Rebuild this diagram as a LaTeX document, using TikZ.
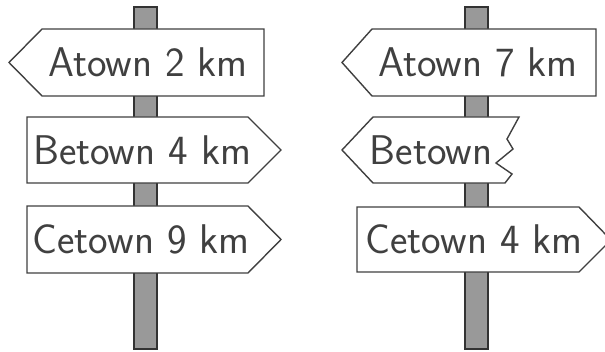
\documentclass[tikz,border=0pt]{standalone}
\begin{document}
\begin{tikzpicture}[x=1pt,y=-1pt,
  post/.style={draw=black!80, fill=black!40, line width=1.4pt},
  board/.style={draw=black!75, fill=white, line width=1.4pt, line join=miter},
  signtext/.style={text=black!75, font=\sffamily\fontsize{41.5}{44}\selectfont, inner sep=0pt, anchor=base}]
\useasboundingbox (0,0) rectangle (605,352);
\clip (0,0) rectangle (605,352);

% posts
\filldraw[post] (134,7) rectangle (157,349);
\filldraw[post] (465,7) rectangle (488,349);

% left post boards
\filldraw[board] (9,62.5) -- (42,29) -- (264,29) -- (264,96) -- (42,96) -- cycle;
\filldraw[board] (27,117) -- (248,117) -- (281,150) -- (248,183) -- (27,183) -- cycle;
\filldraw[board] (27,206) -- (248,206) -- (281,239.5) -- (248,273) -- (27,273) -- cycle;

% right post boards
\filldraw[board] (342,62.5) -- (372,29) -- (596,29) -- (596,96) -- (372,96) -- cycle;
\filldraw[board] (342,150) -- (373,117) -- (519,117) -- (507,139) -- (513,149)
  -- (496,163) -- (512,174) -- (505,183) -- (373,183) -- cycle;
\filldraw[board] (357,207) -- (579,207) -- (611,240) -- (579,272) -- (357,272) -- cycle;

% texts
\node[signtext] (la) at (148,77) {Atown 2 km};
\node[signtext] (lb) at (142,164.5) {Betown 4 km};
\node[signtext] (lc) at (141,253.5) {Cetown 9 km};
\node[signtext] (ra) at (478,77) {Atown 7 km};
\node[signtext] (rb) at (431,164.5) {Betown};
\node[signtext] (rc) at (474,253.5) {Cetown 4 km};
\end{tikzpicture}
\end{document}
